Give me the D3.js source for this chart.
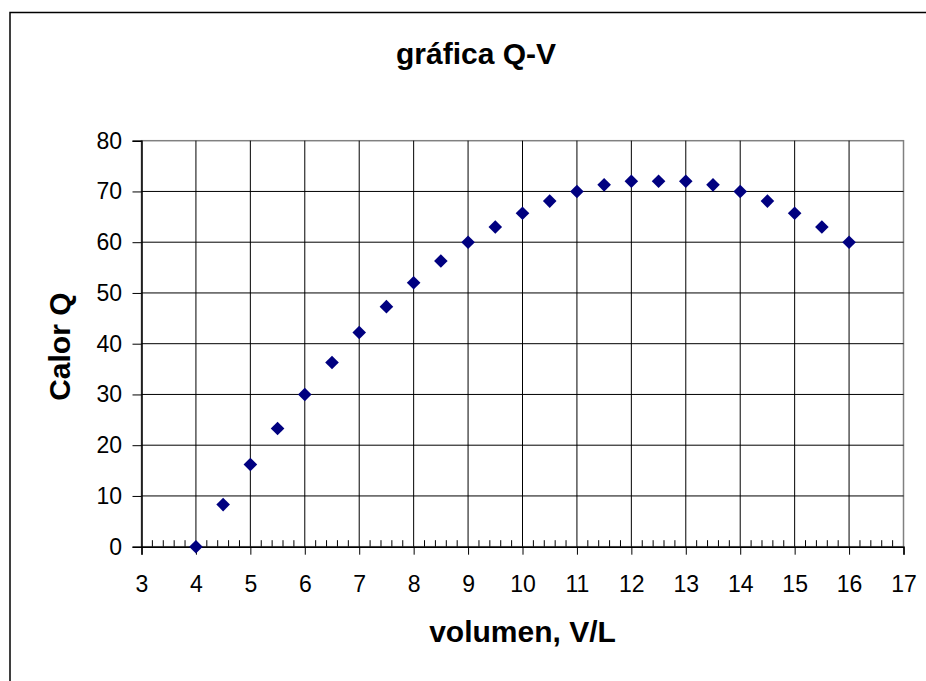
<!DOCTYPE html>
<html>
<head>
<meta charset="utf-8">
<script src="https://cdn.jsdelivr.net/npm/d3@7"></script>
<style>
  body { margin: 0; background: #fff; overflow: hidden; }
  text { font-family: "Liberation Sans", Arial, sans-serif; }
</style>
</head>
<body>
<div id="plot"></div>
<script>
// data
const volumen = [4, 4.5, 5, 5.5, 6, 6.5, 7, 7.5, 8, 8.5, 9, 9.5, 10,
                 10.5, 11, 11.5, 12, 12.5, 13, 13.5, 14, 14.5, 15, 15.5, 16];
const calor = [0, 8.3, 16.2, 23.3, 30, 36.3, 42.2, 47.3, 52, 56.3, 60, 63, 65.7,
               68.1, 70, 71.3, 72, 72, 72, 71.3, 70, 68.1, 65.7, 63, 60];
const xTicks = d3.range(3, 18, 1);
const yTicks = d3.range(0, 81, 10);

const w = 926, h = 681;
const margin = {left: 141.5, top: 140.7, right: 926 - 903.5, bottom: 681 - 546.7};
const innerWidth = w - margin.left - margin.right;
const innerHeight = h - margin.top - margin.bottom;

const data = volumen.map((v, i) => ({x: v, y: calor[i]}));

const xScale = d3.scaleLinear().domain([3, 17]).range([0, innerWidth]);
const yScale = d3.scaleLinear().domain([0, 80]).range([innerHeight, 0]);

const svg = d3.select("div#plot")
  .append("svg")
  .attr("width", w)
  .attr("height", h)
  .style("display", "block");

// chart border (runs off the right and bottom edges)
svg.append("path")
  .attr("d", `M10,${h}V12.5H${w}`)
  .attr("fill", "none")
  .attr("stroke", "#000")
  .attr("stroke-width", 1.5);

const plot = svg.append("g")
  .attr("id", "plotarea")
  .attr("transform", `translate(${margin.left}, ${margin.top})`);

// plot area frame
plot.append("rect")
  .attr("width", innerWidth)
  .attr("height", innerHeight)
  .attr("fill", "none")
  .attr("stroke", "#808080")
  .attr("stroke-width", 1.5);

// gridlines
plot.append("g")
  .attr("id", "ygrid")
  .selectAll("line")
  .data(yTicks.slice(1, -1))
  .enter()
  .append("line")
  .attr("x1", 0)
  .attr("x2", innerWidth)
  .attr("y1", d => yScale(d))
  .attr("y2", d => yScale(d))
  .attr("stroke", "#000")
  .attr("stroke-width", 1);

plot.append("g")
  .attr("id", "xgrid")
  .selectAll("line")
  .data(xTicks.slice(1, -1))
  .enter()
  .append("line")
  .attr("x1", d => xScale(d))
  .attr("x2", d => xScale(d))
  .attr("y1", 0)
  .attr("y2", innerHeight)
  .attr("stroke", "#000")
  .attr("stroke-width", 1);

// x-axis: major ticks below, minor ticks inside
const xAxis = d3.axisBottom(xScale)
  .tickValues(xTicks)
  .tickFormat(d3.format("d"))
  .tickSize(8)
  .tickPadding(21);

const xg = plot.append("g")
  .attr("id", "xaxis")
  .attr("transform", `translate(0, ${innerHeight})`)
  .call(xAxis);

xg.select(".domain").attr("stroke", "#000").attr("stroke-width", 1.5);
xg.selectAll("text").attr("font-size", 23).attr("fill", "#000");

const minor = d3.range(3, 17.01, 0.2).filter(d => Math.abs(d - Math.round(d)) > 0.01);
xg.append("g")
  .selectAll("line")
  .data(minor)
  .enter()
  .append("line")
  .attr("x1", d => xScale(d))
  .attr("x2", d => xScale(d))
  .attr("y1", 0)
  .attr("y2", -6.5)
  .attr("stroke", "#000");

// y-axis
const yAxis = d3.axisLeft(yScale)
  .tickValues(yTicks)
  .tickSize(9)
  .tickPadding(10.5);

const yg = plot.append("g")
  .attr("id", "yaxis")
  .call(yAxis);

yg.select(".domain").attr("stroke", "#000").attr("stroke-width", 1.5);
yg.selectAll("text").attr("font-size", 23).attr("fill", "#000");

// points
plot.append("g")
  .attr("id", "points")
  .selectAll("path")
  .data(data)
  .enter()
  .append("path")
  .attr("d", "M0,-6.8L6.8,0L0,6.8L-6.8,0Z")
  .attr("transform", d => `translate(${xScale(d.x)}, ${yScale(d.y)})`)
  .attr("fill", "#000080");

// titles
svg.append("text")
  .attr("x", 476)
  .attr("y", 64)
  .attr("text-anchor", "middle")
  .attr("font-size", 30)
  .attr("font-weight", "bold")
  .text("gráfica Q-V");

svg.append("text")
  .attr("x", margin.left + innerWidth / 2)
  .attr("y", 642)
  .attr("text-anchor", "middle")
  .attr("font-size", 30)
  .attr("font-weight", "bold")
  .text("volumen, V/L");

svg.append("text")
  .attr("text-anchor", "middle")
  .attr("font-size", 30)
  .attr("font-weight", "bold")
  .attr("transform", `translate(70, ${margin.top + innerHeight / 2 + 3}) rotate(-90)`)
  .text("Calor Q");
</script>
</body>
</html>
